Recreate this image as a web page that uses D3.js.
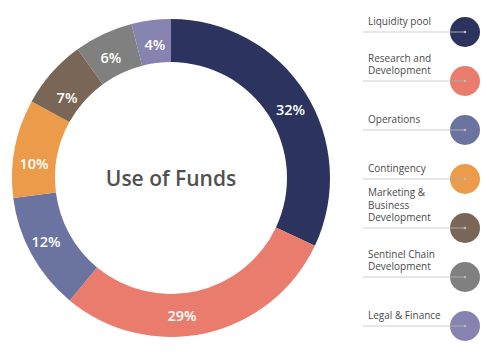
<!DOCTYPE html>
<html><head><meta charset="utf-8">
<script src="https://cdn.jsdelivr.net/npm/d3@7"></script>
<style>html,body{margin:0;padding:0;background:#fff;}svg{display:block;}</style>
</head><body>
<script>
const categories = ["Liquidity pool", "Research and Development", "Operations", "Contingency", "Marketing & Business Development", "Sentinel Chain Development", "Legal & Finance"];
const legendLines = [["Liquidity pool"], ["Research and", "Development"], ["Operations"], ["Contingency"], ["Marketing &", "Business", "Development"], ["Sentinel Chain", "Development"], ["Legal & Finance"]];
const values = [32, 29, 12, 10, 7, 6, 4];
const colors = ["#2b335e", "#e97c6c", "#6b74a0", "#eb9b49", "#7a6656", "#808080", "#8683b0"];
const title = "Use of Funds";

const W = 489, H = 356;
const svg = d3.select("body").append("svg").attr("width", W).attr("height", H);
const cx = 171, cy = 178, rOut = 159, rIn = 116;

const pie = d3.pie().sort(null).value(d => d)(values);
const arc = d3.arc().innerRadius(rIn).outerRadius(rOut);
const g = svg.append("g").attr("transform", `translate(${cx},${cy})`);
g.selectAll("path").data(pie).join("path")
  .attr("d", arc).attr("fill", (d, i) => colors[i]);

// label placement: mid-angle of each slice, with small hand-placement nudges (degrees / px)
const angleNudge = [2.7, 8, 2, -4.6, -3.5, -1.2, 0.3];
const radiusNudge = [0, 0.5, 2.5, 0.3, -5.7, -2.5, -3.5];
const rMid = (rIn + rOut) / 2;
g.selectAll("text.lbl").data(pie).join("text").attr("class", "lbl")
  .attr("transform", (d, i) => {
    const a = (d.startAngle + d.endAngle) / 2 + angleNudge[i] * Math.PI / 180;
    const r = rMid + radiusNudge[i];
    return `translate(${r * Math.sin(a)},${-r * Math.cos(a)})`;
  })
  .attr("text-anchor", "middle").attr("dominant-baseline", "central")
  .attr("fill", "#fff").attr("font-family", "Open Sans, sans-serif")
  .attr("font-weight", 600).attr("font-size", 14.5)
  .text(d => d.value + "%");
g.append("text").attr("text-anchor", "middle").attr("dominant-baseline", "central")
  .attr("fill", "#505050").attr("font-family", "Open Sans, sans-serif")
  .attr("font-weight", 600).attr("font-size", 21).text(title);

// legend
const ly = d3.scalePoint().domain(categories).range([32, 326]);
const lg = svg.append("g");
categories.forEach((c, i) => {
  const y = ly(c);
  lg.append("line").attr("x1", 363).attr("x2", 465).attr("y1", y).attr("y2", y)
    .attr("stroke", "#cfcfcf").attr("stroke-width", 1.2);
  lg.append("circle").attr("cx", 465).attr("cy", y).attr("r", 15).attr("fill", colors[i]);
  lg.append("line").attr("x1", 450).attr("x2", 465).attr("y1", y).attr("y2", y)
    .attr("stroke", "#aaa").attr("stroke-width", 1);
  lg.append("circle").attr("cx", 465).attr("cy", y).attr("r", 1.3).attr("fill", "#bbb");
  const lines = legendLines[i];
  lines.forEach((t, j) => {
    lg.append("text").attr("x", 368).attr("y", y - 7 - (lines.length - 1 - j) * 12.5)
      .attr("fill", "#4a4a4a").attr("font-family", "Open Sans, sans-serif")
      .attr("font-size", 10).text(t);
  });
});
</script>
</body></html>
